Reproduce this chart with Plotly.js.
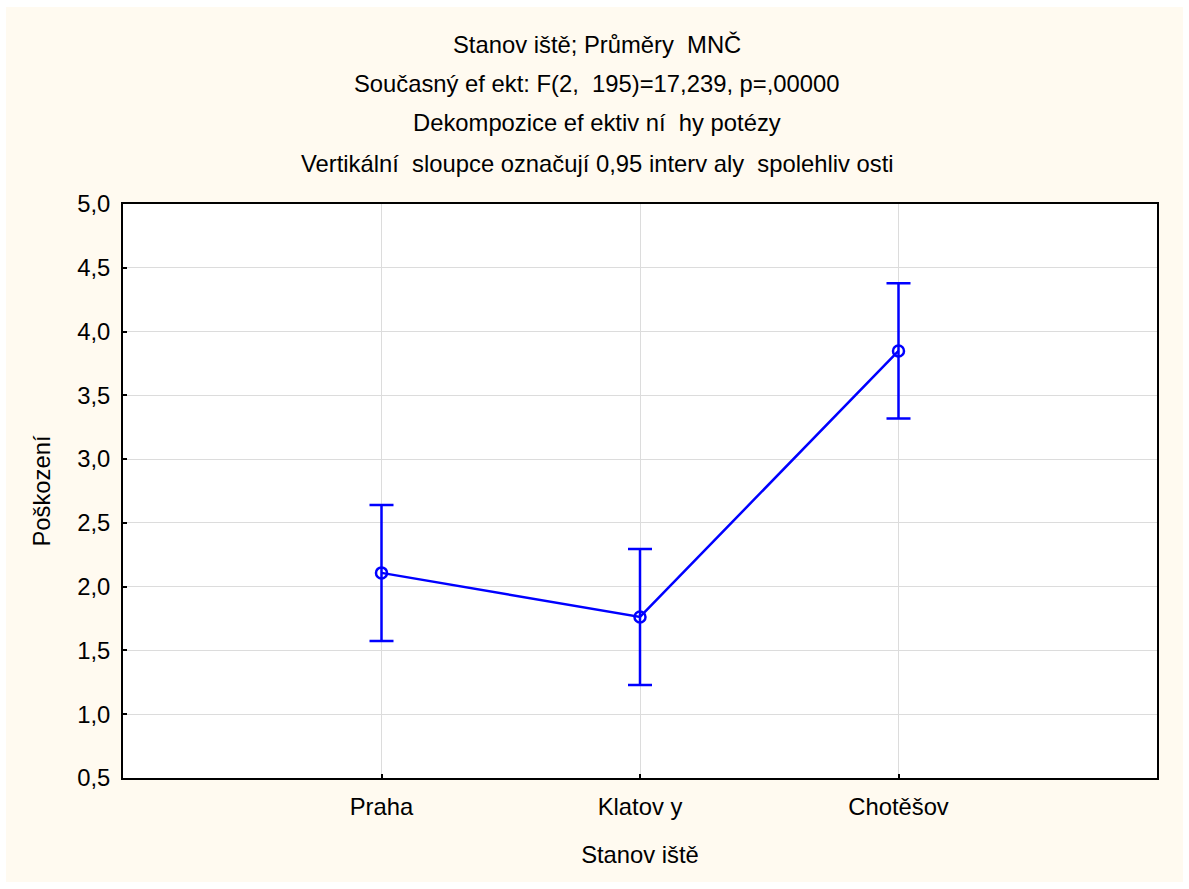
<!DOCTYPE html>
<html>
<head>
<meta charset="utf-8">
<script src="https://cdn.plot.ly/plotly-3.0.1.min.js"></script>
<style>
html,body{margin:0;padding:0;background:#ffffff;}
#chart{position:absolute;left:6px;top:7px;width:1177px;height:875px;}
</style>
</head>
<body>
<div id="chart"></div>
<script>
// Data
const categories = ["Praha", "Klatov y", "Chotěšov"];
const means = [2.108, 1.763, 3.848];
const ciHalf = [0.533, 0.533, 0.530];
const yTickValues = [0.5, 1.0, 1.5, 2.0, 2.5, 3.0, 3.5, 4.0, 4.5, 5.0];
const titleLines = [
  "Stanov iště; Průměry  MNČ",
  "Současný ef ekt: F(2,  195)=17,239, p=,00000",
  "Dekompozice ef ektiv ní  hy potézy",
  "Vertikální  sloupce označují 0,95 interv aly  spolehliv osti"
];
const xTitle = "Stanov iště";
const yTitle = "Poškození";

const W = 1177, H = 875;
const M = {l:117, r:26, t:197, b:104};
const plotW = W - M.l - M.r, plotH = H - M.t - M.b;
const fx = px => (px - 6 - M.l) / plotW;
const fy = py => 1 - (py - 7 - M.t) / plotH;

const font = {family: "Liberation Sans, Arial, sans-serif", size: 23.8, color: "#000000"};
const blue = "#0000ff";

const trace = {
  x: categories.map((c, i) => i),
  y: means,
  type: "scatter",
  mode: "lines+markers",
  line: {color: blue, width: 2.5},
  marker: {symbol: "circle-open", size: 11, color: blue, line: {width: 2.5, color: blue}},
  error_y: {type: "data", array: ciHalf, visible: true, color: blue, thickness: 2.5, width: 12},
  hoverinfo: "skip"
};

const titleY = [44, 84, 123, 163];
const annotations = titleLines.map((t, i) => ({
  text: t, xref: "paper", yref: "paper", x: fx(597), y: fy(titleY[i]),
  xanchor: "center", yanchor: "middle", showarrow: false, font: font
}));

const layout = {
  width: W, height: H,
  paper_bgcolor: "#fffaf0",
  plot_bgcolor: "#ffffff",
  margin: M,
  separators: ", ",
  showlegend: false,
  font: font,
  xaxis: {
    range: [-1, 3],
    tickvals: categories.map((c, i) => i),
    ticktext: categories,
    showgrid: true, gridcolor: "#dcdcdc", gridwidth: 1,
    zeroline: false,
    showline: true, linecolor: "#000000", linewidth: 2, mirror: true,
    ticks: "inside", ticklen: 4, tickcolor: "#000000", tickwidth: 2,
    ticklabelstandoff: 6,
    tickfont: font,
    title: {text: xTitle, font: font, standoff: 28}
  },
  yaxis: {
    range: [0.5, 5.0],
    tickvals: yTickValues,
    tickformat: ".1f",
    showgrid: true, gridcolor: "#dcdcdc", gridwidth: 1,
    zeroline: false,
    showline: true, linecolor: "#000000", linewidth: 2, mirror: true,
    ticks: "inside", ticklen: 4, tickcolor: "#000000", tickwidth: 2,
    ticklabelstandoff: 6,
    tickfont: font,
    title: {text: yTitle, font: font, standoff: 20}
  },
  annotations: annotations
};

Plotly.newPlot("chart", [trace], layout, {displayModeBar: false, staticPlot: true});
</script>
</body>
</html>
